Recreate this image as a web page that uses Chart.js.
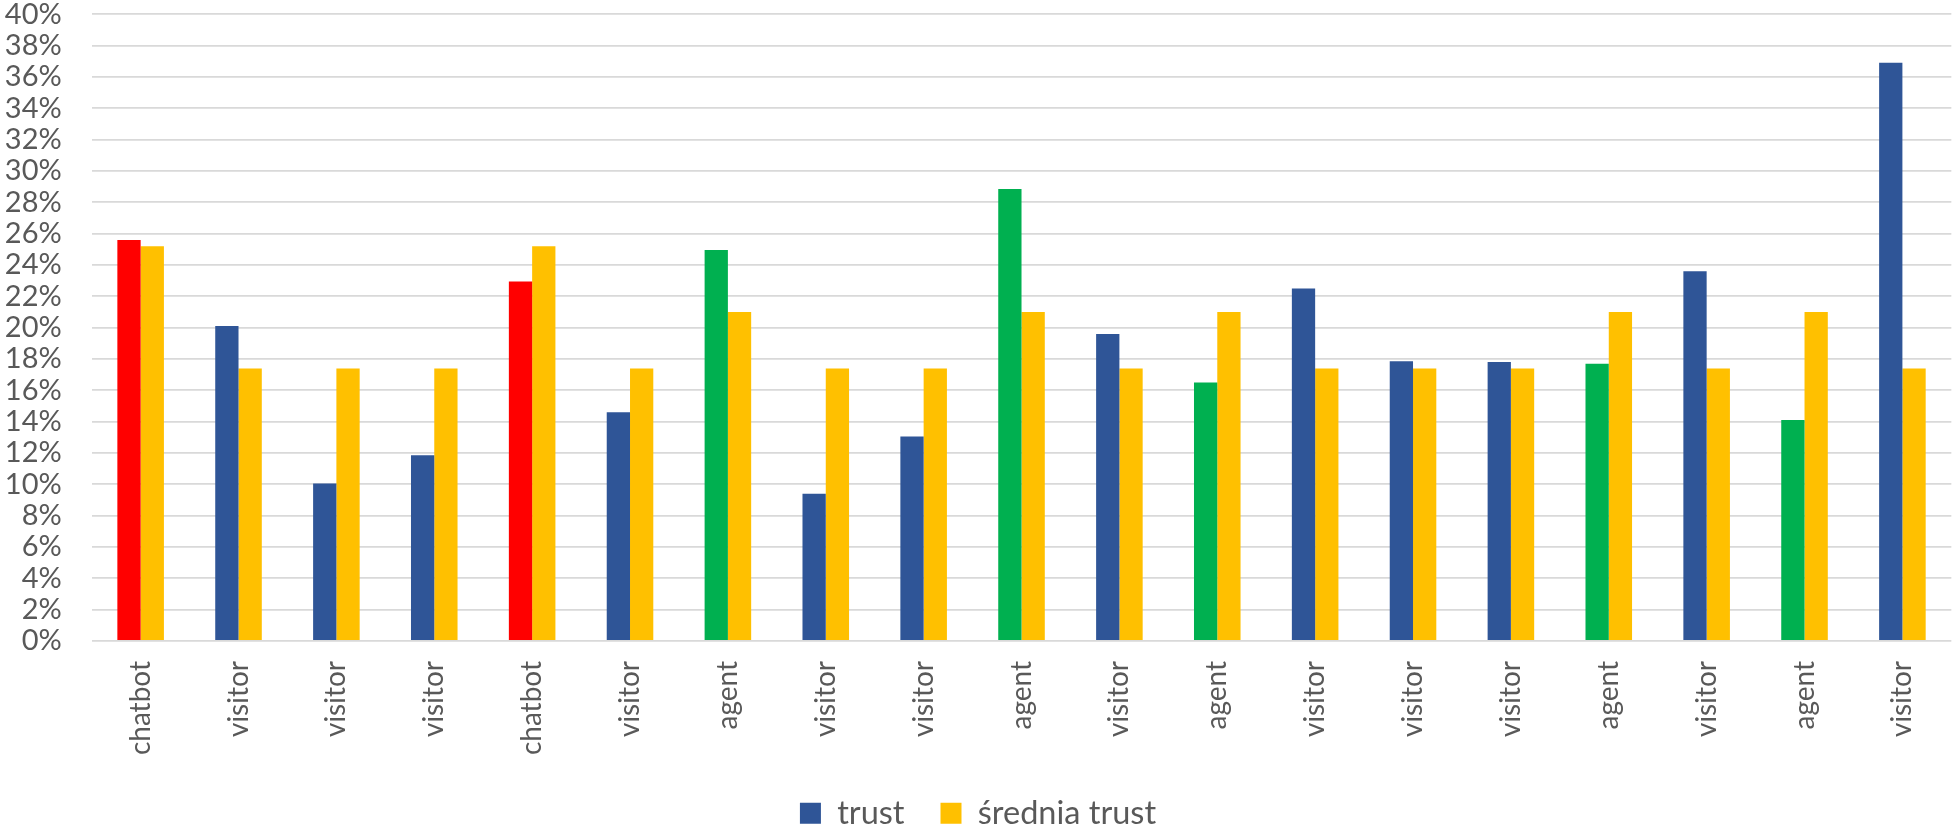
<!DOCTYPE html>
<html>
<head>
<meta charset="utf-8">
<script src="https://cdn.jsdelivr.net/npm/chart.js@4/dist/chart.umd.min.js"></script>
<style>
  html, body { margin: 0; padding: 0; background: #ffffff; }
  #chart { display: block; }
</style>
</head>
<body>
<canvas id="chart" width="1956" height="827"></canvas>
<script>
// Respondent role for each bar group
const categories = [
  'chatbot', 'visitor', 'visitor', 'visitor', 'chatbot', 'visitor', 'agent',
  'visitor', 'visitor', 'agent', 'visitor', 'agent', 'visitor', 'visitor',
  'visitor', 'agent', 'visitor', 'agent', 'visitor'
];

// Trust share per participant (%)
const trustValues = [
  25.6, 20.1, 10.05, 11.85, 22.95, 14.6, 24.95,
  9.4, 13.05, 28.85, 19.6, 16.5, 22.5, 17.85,
  17.8, 17.7, 23.6, 14.1, 36.9
];

// Average trust of the participant's role (%)
const averageTrust = [
  25.2, 17.4, 17.4, 17.4, 25.2, 17.4, 21.0,
  17.4, 17.4, 21.0, 17.4, 21.0, 17.4, 17.4,
  17.4, 21.0, 17.4, 21.0, 17.4
];

const seriesNames = ['trust', 'średnia trust'];

const roleColors = { chatbot: '#FF0000', agent: '#00B050', visitor: '#2F5597' };
const trustLegendColor = '#2F5597';
const averageColor = '#FFC000';
const textColor = '#595959';
const gridColor = '#D9D9D9';
const fontFamily = 'Lato, "Open Sans", sans-serif';

// Keep the legend strip compact while items stay widely spaced
const compactLegend = {
  id: 'compactLegend',
  afterInit(chart) {
    const legend = chart.legend;
    if (!legend) return;
    const fit = legend.fit;
    legend.fit = function () {
      fit.call(this);
      this.height = 66;
    };
  }
};

new Chart(document.getElementById('chart'), {
  type: 'bar',
  data: {
    labels: categories,
    datasets: [
      {
        label: seriesNames[0],
        data: trustValues,
        backgroundColor: ctx => roleColors[categories[ctx.dataIndex]] || trustLegendColor,
        borderWidth: 0,
        categoryPercentage: 0.4757,
        barPercentage: 1.0
      },
      {
        label: seriesNames[1],
        data: averageTrust,
        backgroundColor: averageColor,
        borderWidth: 0,
        categoryPercentage: 0.4757,
        barPercentage: 1.0
      }
    ]
  },
  plugins: [compactLegend],
  options: {
    responsive: false,
    devicePixelRatio: 1,
    animation: false,
    layout: { padding: { top: 14.3, right: 0, bottom: 0, left: 0 } },
    scales: {
      x: {
        grid: { display: false, drawTicks: false },
        border: { display: false },
        ticks: {
          autoSkip: false,
          minRotation: 90,
          maxRotation: 90,
          padding: 20,
          color: textColor,
          font: { family: fontFamily, size: 28 }
        },
        afterFit: scale => { scale.height = 120; }
      },
      y: {
        min: 0,
        max: 40,
        grid: { color: gridColor, lineWidth: 1.8, drawTicks: false },
        border: { display: false },
        ticks: {
          stepSize: 2,
          autoSkip: false,
          padding: 30,
          color: textColor,
          font: { family: fontFamily, size: 29, lineHeight: 1 },
          callback: v => v + '%'
        },
        afterFit: scale => {
          scale.width = 91.7;
          // the gap beside the labels is horizontal only
          scale.paddingTop = 0;
          scale.paddingBottom = 0;
        }
      }
    },
    plugins: {
      tooltip: { enabled: false },
      legend: {
        position: 'bottom',
        labels: {
          boxWidth: 21,
          boxHeight: 21,
          padding: 36,
          color: textColor,
          font: { family: fontFamily, size: 32.5 },
          generateLabels: chart => {
            const items = Chart.defaults.plugins.legend.labels.generateLabels(chart);
            const colors = [trustLegendColor, averageColor];
            items.forEach((item, i) => {
              item.fillStyle = colors[i];
              item.strokeStyle = colors[i];
              item.lineWidth = 0;
            });
            return items;
          }
        }
      }
    }
  }
});
</script>
</body>
</html>
